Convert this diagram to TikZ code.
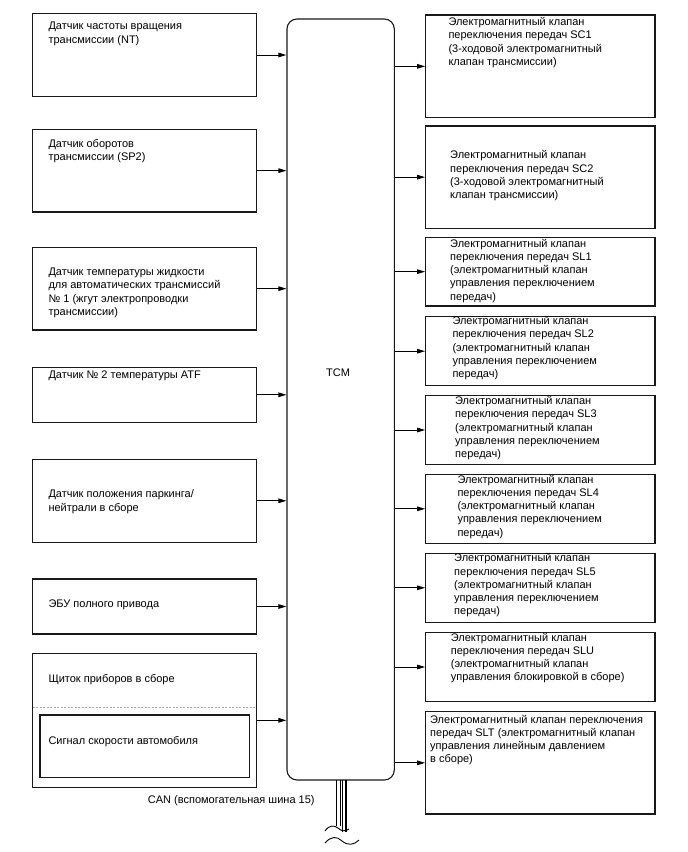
\documentclass[tikz,border=0pt]{standalone}
\usepackage{fontspec}
\setmainfont{Liberation Sans}
\usetikzlibrary{arrows.meta}
\newcommand{\fstrut}{\rule{0pt}{11pt}}
\begin{document}
\begin{tikzpicture}[x=1pt,y=-1pt,
  box/.style={draw=black!90, line width=1.1pt, inner sep=0pt, fill=none},
  txt/.style={anchor=north west, inner sep=0pt, align=left, font=\fontsize{11}{13.3}\selectfont},
  arr/.style={line width=1pt, -{Triangle[length=8pt,width=4.5pt]}},
  canline/.style={line width=0.8pt},
  canthick/.style={line width=1.5pt}]
\useasboundingbox[fill=white] (0,0) rectangle (688,852);

% TCM
\node[box, rounded corners=10pt, minimum width=107.3pt, minimum height=761pt] (tcm) at (340.65,399.5) {};
\node[inner sep=0pt, font=\fontsize{11}{13.3}\selectfont] (tcmlabel) at (338,373) {TCM};

% left boxes
\node[box, minimum width=224pt, minimum height=83.4pt] (b1) at (144.7,55) {};
\node[box, minimum width=224pt, minimum height=82.7pt] (b2) at (144.7,170.65) {};
\node[box, minimum width=224pt, minimum height=82.7pt] (b3) at (144.7,288.65) {};
\node[box, minimum width=224pt, minimum height=55pt] (b4) at (144.7,394.8) {};
\node[box, minimum width=224pt, minimum height=83pt] (b5) at (144.7,500.8) {};
\node[box, minimum width=224pt, minimum height=55pt] (b6) at (144.7,606.5) {};
\node[box, minimum width=224pt, minimum height=134pt] (b7) at (144.7,720.3) {};
\node[box, minimum width=209.3pt, minimum height=62.3pt] (b7i) at (144.65,746.15) {};
\coordinate (d1) at (32.7,707.3);
\coordinate (d2) at (256.7,707.3);
\draw[gray!70, line width=0.9pt, dash pattern=on 2pt off 1.5pt] (d1) -- (d2);

\node[txt] (t1) at (48.3,18.5) {\fstrut Датчик частоты вращения\\трансмиссии (NT)};
\node[txt] (t2) at (48.3,135.8) {\fstrut Датчик оборотов\\трансмиссии (SP2)};
\node[txt] (t3) at (48.3,264.2) {\fstrut Датчик температуры жидкости\\для автоматических трансмиссий\\№ 1 (жгут электропроводки\\трансмиссии)};
\node[txt] (t4) at (48.3,367.5) {\fstrut Датчик № 2 температуры ATF};
\node[txt] (t5) at (48.3,486.5) {\fstrut Датчик положения паркинга/\\нейтрали в сборе};
\node[txt] (t6) at (48.3,595.8) {\fstrut ЭБУ полного привода};
\node[txt] (t7) at (48.3,670.8) {\fstrut Щиток приборов в сборе};
\node[txt] (t7i) at (48.3,733.5) {\fstrut Сигнал скорости автомобиля};

% right boxes
\node[box, minimum width=229.3pt, minimum height=102.7pt] (r1) at (540.35,66.35) {};
\node[box, minimum width=229.3pt, minimum height=102.3pt] (r2) at (540.35,177.15) {};
\node[box, minimum width=229.3pt, minimum height=68.7pt] (r3) at (540.35,271.65) {};
\node[box, minimum width=229.3pt, minimum height=69pt] (r4) at (540.35,351.2) {};
\node[box, minimum width=229.3pt, minimum height=68.6pt] (r5) at (540.35,430) {};
\node[box, minimum width=229.3pt, minimum height=69pt] (r6) at (540.35,508.8) {};
\node[box, minimum width=229.3pt, minimum height=69pt] (r7) at (540.35,587.8) {};
\node[box, minimum width=229.3pt, minimum height=69.4pt] (r8) at (540.35,667) {};
\node[box, minimum width=229.3pt, minimum height=102.3pt] (r9) at (540.35,762.85) {};

\node[txt] (s1) at (448.3,14.2) {\fstrut Электромагнитный клапан\\переключения передач SC1\\(3-ходовой электромагнитный\\клапан трансмиссии)};
\node[txt] (s2) at (450,147.5) {\fstrut Электромагнитный клапан\\переключения передач SC2\\(3-ходовой электромагнитный\\клапан трансмиссии)};
\node[txt] (s3) at (450,235.8) {\fstrut Электромагнитный клапан\\переключения передач SL1\\(электромагнитный клапан\\управления переключением\\передач)};
\node[txt] (s4) at (452.3,313.2) {\fstrut Электромагнитный клапан\\переключения передач SL2\\(электромагнитный клапан\\управления переключением\\передач)};
\node[txt] (s5) at (455,393.2) {\fstrut Электромагнитный клапан\\переключения передач SL3\\(электромагнитный клапан\\управления переключением\\передач)};
\node[txt] (s6) at (457.3,471.8) {\fstrut Электромагнитный клапан\\переключения передач SL4\\(электромагнитный клапан\\управления переключением\\передач)};
\node[txt] (s7) at (454,550.5) {\fstrut Электромагнитный клапан\\переключения передач SL5\\(электромагнитный клапан\\управления переключением\\передач)};
\node[txt] (s8) at (450.7,629.8) {\fstrut Электромагнитный клапан\\переключения передач SLU\\(электромагнитный клапан\\управления блокировкой в сборе)};
\node[txt] (s9) at (430,711.8) {\fstrut Электромагнитный клапан переключения\\передач SLT (электромагнитный клапан\\управления линейным давлением\\в сборе)};

% arrows in
\foreach \b in {b1,b2,b3,b4,b5,b6,b7}
  \draw[arr] (\b.east) -- (\b.east -| tcm.west);
% arrows out
\foreach \r in {r1,r2,r3,r4,r5,r6,r7,r8,r9}
  \draw[arr] (\r.west -| tcm.east) -- (\r.west);

% CAN
\node[anchor=base west, inner sep=0pt, font=\fontsize{11}{13.3}\selectfont] (can) at (147.7,803) {CAN (вспомогательная шина 15)};
\coordinate (c1a) at (336.3,780); \coordinate (c1b) at (336.3,826);
\coordinate (c2a) at (340,780);   \coordinate (c2b) at (340,826);
\coordinate (c3a) at (342.5,780); \coordinate (c3b) at (342.5,832);
\coordinate (c4a) at (346.2,780); \coordinate (c4b) at (346.2,832);
\draw[canthick] (c1a) -- (c1b);
\draw[canline] (c2a) -- (c2b);
\draw[canline] (c3a) -- (c3b);
\draw[canthick] (c4a) -- (c4b);
\coordinate (w1) at (325,831); \coordinate (w2) at (338,828); \coordinate (w3) at (349,829);
\draw[line width=0.9pt] (w1) .. controls (329,825) and (334,825) .. (w2) .. controls (341,831) and (345,832) .. (w3);
\coordinate (v1) at (325,843); \coordinate (v2) at (342,841); \coordinate (v3) at (359,840);
\draw[line width=0.9pt] (v1) .. controls (331,836) and (337,836) .. (v2) .. controls (348,846) and (354,845) .. (v3);
\end{tikzpicture}
\end{document}
